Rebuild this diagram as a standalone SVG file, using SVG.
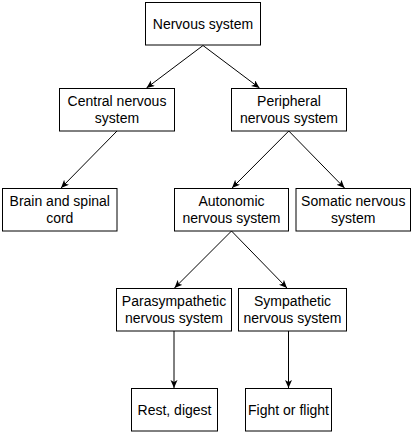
<svg xmlns="http://www.w3.org/2000/svg" width="413" height="434" viewBox="0 0 413 434">
<style>
  .box { fill: #ffffff; stroke: #000000; stroke-width: 1; }
  .lbl { font-family: "Liberation Sans", Arial, sans-serif; font-size: 14px; fill: #000000; text-anchor: middle; }
  .edge { stroke: #000000; stroke-width: 1; fill: none; marker-end: url(#arr); }
</style>
<defs>
  <marker id="arr" markerUnits="userSpaceOnUse" markerWidth="9" markerHeight="8" refX="8" refY="3.5" orient="auto">
    <path d="M0,0 L8,3.5 L0,7 L2,3.5 Z" fill="#000000"/>
  </marker>
</defs>
<rect width="413" height="434" fill="#ffffff"/>
<g id="connectors">
  <line class="edge" x1="203" y1="45.5" x2="146.5" y2="88"/>
  <line class="edge" x1="203" y1="45.5" x2="259.5" y2="88"/>
  <line class="edge" x1="117" y1="131" x2="61" y2="188"/>
  <line class="edge" x1="288.8" y1="131" x2="232" y2="188"/>
  <line class="edge" x1="288.8" y1="131" x2="344.5" y2="188"/>
  <line class="edge" x1="231.5" y1="231" x2="174.5" y2="288"/>
  <line class="edge" x1="231.5" y1="231" x2="287" y2="288"/>
  <line class="edge" x1="174" y1="331" x2="174" y2="388"/>
  <line class="edge" x1="288.5" y1="331" x2="288.5" y2="388"/>
</g>
<g id="nervous-system">
  <rect class="box" x="145.5" y="2.5" width="115" height="42.5"/>
  <text class="lbl" x="203" y="29">Nervous system</text>
</g>
<g id="central">
  <rect class="box" x="59.5" y="88.5" width="115" height="42.5"/>
  <text class="lbl" x="117" y="106">Central nervous</text>
  <text class="lbl" x="117" y="123">system</text>
</g>
<g id="peripheral">
  <rect class="box" x="231.5" y="88.5" width="115" height="42.5"/>
  <text class="lbl" x="289" y="106">Peripheral</text>
  <text class="lbl" x="289" y="123">nervous system</text>
</g>
<g id="brain">
  <rect class="box" x="2.5" y="188.5" width="114.5" height="42.5"/>
  <text class="lbl" x="59.75" y="206">Brain and spinal</text>
  <text class="lbl" x="59.75" y="223">cord</text>
</g>
<g id="autonomic">
  <rect class="box" x="174.5" y="188.5" width="114" height="42.5"/>
  <text class="lbl" x="231.5" y="206">Autonomic</text>
  <text class="lbl" x="231.5" y="223">nervous system</text>
</g>
<g id="somatic">
  <rect class="box" x="296" y="188.5" width="114.5" height="42.5"/>
  <text class="lbl" x="353.25" y="206">Somatic nervous</text>
  <text class="lbl" x="353.25" y="223">system</text>
</g>
<g id="parasympathetic">
  <rect class="box" x="116.5" y="288.5" width="115" height="42.5"/>
  <text class="lbl" x="174" y="306">Parasympathetic</text>
  <text class="lbl" x="174" y="323">nervous system</text>
</g>
<g id="sympathetic">
  <rect class="box" x="238.5" y="288.5" width="108" height="42.5"/>
  <text class="lbl" x="292.5" y="306">Sympathetic</text>
  <text class="lbl" x="292.5" y="323">nervous system</text>
</g>
<g id="rest">
  <rect class="box" x="131.5" y="388.5" width="86" height="42.5"/>
  <text class="lbl" x="174.5" y="415">Rest, digest</text>
</g>
<g id="fight">
  <rect class="box" x="245.5" y="388.5" width="86" height="42.5"/>
  <text class="lbl" x="288.5" y="415">Fight or flight</text>
</g>
</svg>
